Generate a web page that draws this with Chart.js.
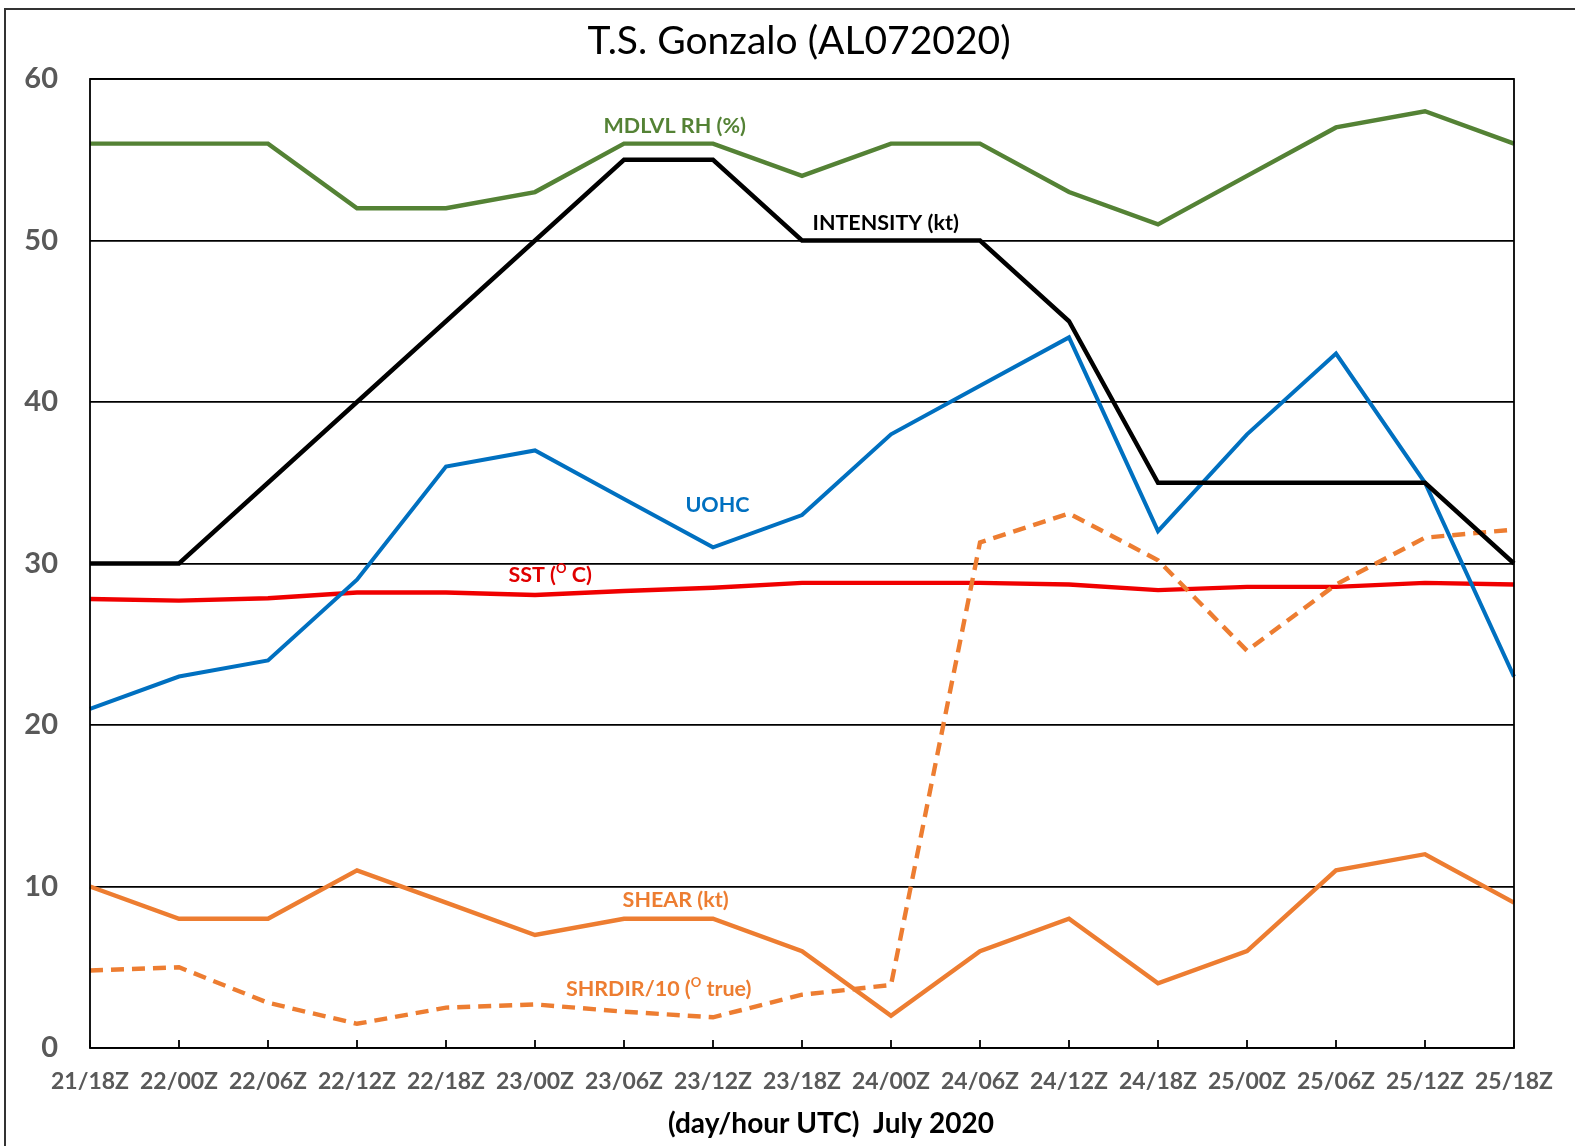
<!DOCTYPE html>
<html>
<head>
<meta charset="utf-8">
<script src="https://cdn.jsdelivr.net/npm/chart.js@4.4.0/dist/chart.umd.min.js"></script>
<style>
  body { margin: 0; overflow: hidden; background: #fff; }
  #wrap { position: relative; width: 1575px; height: 1146px; overflow: hidden; }
  #frame { position: absolute; left: 4px; top: 8px; width: 1600px; height: 1200px; border: 2px solid #333; }
  #box { position: absolute; left: 0; top: 0; width: 1575px; height: 1146px; }
</style>
</head>
<body>
<div id="wrap">
  <div id="frame"></div>
  <div id="box"><canvas id="mainChart"></canvas></div>
</div>
<script>
// synoptic times, 6-hourly
const times = ['21/18Z','22/00Z','22/06Z','22/12Z','22/18Z','23/00Z','23/06Z','23/12Z','23/18Z',
               '24/00Z','24/06Z','24/12Z','24/18Z','25/00Z','25/06Z','25/12Z','25/18Z'];

const rh        = [56, 56, 56, 52, 52, 53, 56, 56, 54, 56, 56, 53, 51, 54, 57, 58, 56];
const intensity = [30, 30, 35, 40, 45, 50, 55, 55, 50, 50, 50, 45, 35, 35, 35, 35, 30];
const uohc      = [21, 23, 24, 29, 36, 37, 34, 31, 33, 38, 41, 44, 32, 38, 43, 35, 23];
const sst       = [27.8, 27.7, 27.85, 28.2, 28.2, 28.05, 28.3, 28.5, 28.8, 28.8, 28.8, 28.7, 28.35, 28.55, 28.55, 28.8, 28.7];
const shear     = [10, 8, 8, 11, 9, 7, 8, 8, 6, 2, 6, 8, 4, 6, 11, 12, 9];
const shrdir    = [4.8, 5.0, 2.8, 1.5, 2.5, 2.7, 2.25, 1.9, 3.3, 3.9, 31.3, 33.1, 30.2, 24.6, 28.7, 31.6, 32.1];

const yTicks = [0, 10, 20, 30, 40, 50, 60];

const chartTitle = 'T.S. Gonzalo (AL072020)';
const xTitle = '(day/hour UTC)  July 2020';

// in-plot series labels: [text, superscript, text], x index, y value
const seriesNotes = [
    { parts: ['MDLVL RH (%)'],               at: [6.57, 57.1], color: '#548235' },
    { parts: ['INTENSITY (kt)'],             at: [8.94, 51.05], color: '#000000' },
    { parts: ['UOHC'],                       at: [7.05, 33.6], color: '#0070C0' },
    { parts: ['SST (', 'O', ' C)'],          at: [5.17, 29.3], color: '#E00000' },
    { parts: ['SHEAR (kt)'],                 at: [6.58, 9.14], color: '#ED7D31' },
    { parts: ['SHRDIR/10 (', 'O', ' true)'], at: [6.39, 3.67], color: '#ED7D31' }
];

const FONT = 'Lato, "Open Sans", sans-serif';

const framePlugin = {
    id: 'frame',
    afterDraw(chart) {
        const {ctx, chartArea: a, scales: {x}} = chart;
        ctx.save();
        ctx.strokeStyle = '#000';
        ctx.lineWidth = 1.8;
        ctx.strokeRect(a.left, a.top, a.right - a.left, a.bottom - a.top);
        // tick marks point up into the plot
        x.ticks.forEach((t, i) => {
            const px = x.getPixelForTick(i);
            ctx.beginPath();
            ctx.moveTo(px, a.bottom);
            ctx.lineTo(px, a.bottom - 8);
            ctx.stroke();
        });
        // chart title and axis title (Excel places them off-centre)
        ctx.fillStyle = '#000';
        ctx.textAlign = 'center';
        ctx.textBaseline = 'middle';
        ctx.font = 'normal 39px ' + FONT;
        ctx.fillText(chartTitle, 799, 41);
        ctx.font = 'bold 28px ' + FONT;
        ctx.fillText(xTitle, 831, 1124);
        ctx.restore();
    }
};

const notesPlugin = {
    id: 'notes',
    afterDatasetsDraw(chart) {
        const {ctx, scales: {x, y}} = chart;
        ctx.save();
        ctx.textBaseline = 'middle';
        ctx.textAlign = 'left';
        const big = 'bold 21.5px ' + FONT, small = 'bold 13px ' + FONT;
        seriesNotes.forEach(n => {
            const cx = x.getPixelForValue(n.at[0]);
            const cy = y.getPixelForValue(n.at[1]);
            let w = 0;
            n.parts.forEach((p, i) => { ctx.font = i === 1 ? small : big; w += ctx.measureText(p).width; });
            let px = cx - w / 2;
            ctx.fillStyle = n.color;
            n.parts.forEach((p, i) => {
                ctx.font = i === 1 ? small : big;
                ctx.fillText(p, px, i === 1 ? cy - 6 : cy);
                px += ctx.measureText(p).width;
            });
        });
        ctx.restore();
    }
};

function line(label, data, color, extra) {
    return Object.assign({ label, data, borderColor: color, backgroundColor: color,
        borderWidth: 4.4, pointRadius: 0, tension: 0, fill: false }, extra || {});
}

new Chart(document.getElementById('mainChart'), {
    type: 'line',
    data: {
        labels: times,
        datasets: [
            line('MDLVL RH (%)', rh, '#548235'),
            line('INTENSITY (kt)', intensity, '#000000'),
            line('UOHC', uohc, '#0070C0', { borderWidth: 4 }),
            line('SHRDIR/10', shrdir, '#ED7D31', { borderDash: [13, 8] }),
            line('SST', sst, '#F00000'),
            line('SHEAR (kt)', shear, '#ED7D31')
        ]
    },
    options: {
        responsive: true, maintainAspectRatio: false, animation: false,
        layout: { padding: { left: 0, right: 61, top: 79, bottom: 0 } },
        plugins: {
            legend: { display: false },
            tooltip: { enabled: false },
            title: { display: false }
        },
        scales: {
            x: {
                offset: false,
                grid: { display: false, drawTicks: false },
                border: { display: false },
                ticks: { color: '#595959', font: { family: FONT, size: 23, weight: 'bold' },
                         padding: 20, maxRotation: 0, autoSkip: false },
                afterFit(s) { s.height = 98; }
            },
            y: {
                min: 0, max: 60,
                afterBuildTicks(s) { s.ticks = yTicks.map(v => ({ value: v })); },
                grid: { color: '#000', lineWidth: 1.8, drawTicks: false },
                border: { display: false },
                ticks: { color: '#595959', font: { family: FONT, size: 29, weight: 'bold' }, padding: 32 },
                afterFit(s) { s.width = 90; }
            }
        }
    },
    plugins: [framePlugin, notesPlugin]
});
</script>
</body>
</html>
